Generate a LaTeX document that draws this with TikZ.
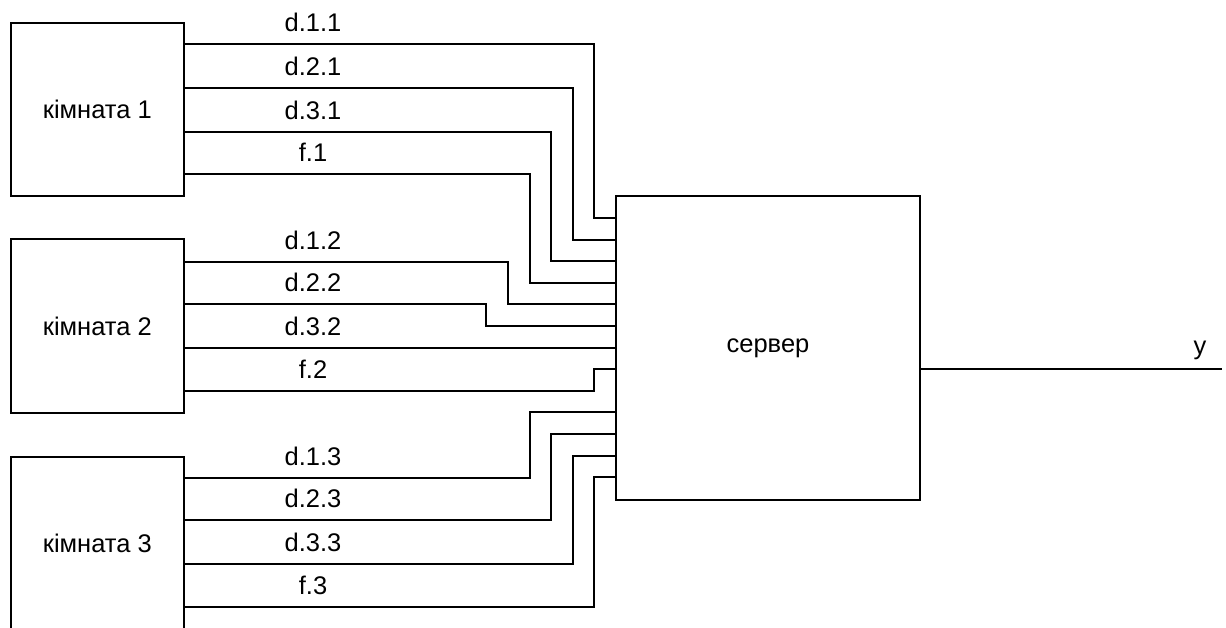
\documentclass[tikz,border=0pt]{standalone}
\usepackage{fontspec}
\setmainfont{Liberation Sans}
\usetikzlibrary{positioning,calc}
\tikzset{
  txt/.style={font=\fontsize{25.5}{30}\selectfont},
  room/.style={draw=black,line width=2pt,minimum width=173pt,
    minimum height=173pt,inner sep=0pt,txt},
  srvbox/.style={draw=black,line width=2pt,minimum width=304pt,
    minimum height=304pt,inner sep=0pt,txt},
  wire/.style={line width=2pt,line join=miter},
  wlbl/.style={txt,anchor=base,inner sep=0pt},
}

\begin{document}
\begin{tikzpicture}[x=1pt,y=-1pt]
  \useasboundingbox (0,0) rectangle (1226,628);
  % rooms and the server
  \node[room] (r1) at (97.3,109.6) {кімната 1};
  \node[room] (r2) at (97.3,326) {кімната 2};
  \node[room] (r3) at (97.3,543.5) {кімната 3};
  \node[srvbox] (srv) at (768,348) {сервер};
  % wires: room / y at room / x of the bend / y at server / label
  \foreach \rm/\sy/\bx/\ty/\lb [count=\k] in {
      r1/44.3/594.3/218.3/d.1.1, r1/88.3/573/239.7/d.2.1,
      r1/131.7/551/260.7/d.3.1,  r1/173.7/530/282.7/f.1,
      r2/261.7/508.3/304/d.1.2,  r2/304.3/486/325.7/d.2.2,
      r2/348/560/348/d.3.2,      r2/391/594.3/369.3/f.2,
      r3/477.7/530/412.3/d.1.3,  r3/520/551/434/d.2.3,
      r3/564/573/456/d.3.3,      r3/607.3/594.3/476.7/f.3} {
    \draw[wire] (\rm.east |- 0,\sy) -| (\bx,\ty) -- (srv.west |- 0,\ty);
    \node[wlbl] (lbl\k) at (313,\sy-12.5) {\lb};
  }
  % output
  \coordinate (yend) at (1222,369.3);
  \draw[wire] (srv.east |- yend) -- (yend);
  \node[wlbl] (ylbl) at (1200,354) {y};
\end{tikzpicture}
\end{document}
